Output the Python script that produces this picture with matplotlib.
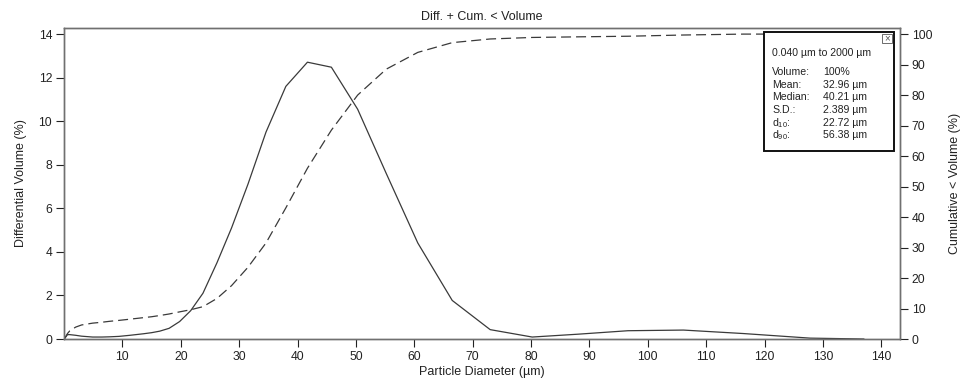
import matplotlib.pyplot as plt
from matplotlib.patches import Rectangle

plt.rcParams['font.family'] = ['Liberation Sans', 'DejaVu Sans']
plt.rcParams['mathtext.fontset'] = 'custom'
plt.rcParams['mathtext.rm'] = 'Liberation Sans'
plt.rcParams['mathtext.it'] = 'Liberation Sans'

# channel diameters (um)
diameter = [0.04, 0.6, 1.0, 2.0, 3.0, 4.9, 6.5, 7.8, 9.4, 11.3, 13.6, 15.0,
            16.4, 18.0, 19.8, 21.7, 23.8, 26.2, 28.7, 31.5, 34.6, 38.0,
            41.7, 45.8, 50.3, 55.2, 60.6, 66.5, 73.0, 80.2, 88.0, 96.6,
            106.1, 116.4, 127.8, 137.0]
# differential volume (%)
diff_vol = [0.0, 0.2, 0.2, 0.17, 0.13, 0.09, 0.09, 0.1, 0.12, 0.17, 0.24, 0.29,
            0.36, 0.49, 0.8, 1.3, 2.1, 3.5, 5.1, 7.1, 9.5, 11.6,
            12.71, 12.48, 10.55, 7.6, 4.41, 1.77, 0.43, 0.09, 0.22, 0.38,
            0.41, 0.25, 0.04, 0.0]
# cumulative < volume (%)
cum_vol = [0.0, 1.8, 2.7, 3.9, 4.6, 5.2, 5.5, 5.8, 6.1, 6.5, 7.0, 7.3,
           7.7, 8.2, 8.9, 9.6, 10.6, 13.3, 17.5, 23.5, 31.5, 43.0,
           56.0, 68.5, 80.0, 88.5, 94.0, 97.2, 98.4, 98.9, 99.1, 99.3,
           99.7, 100.0, 100.0, 100.0]

stat_names = ['Volume:', 'Mean:', 'Median:', 'S.D.:', r'd$_{10}$:', r'd$_{90}$:']
stat_values = ['100%', '32.96 µm', '40.21 µm', '2.389 µm', '22.72 µm', '56.38 µm']
size_range = '0.040 µm to 2000 µm'

W, H = 962, 379
fig = plt.figure(figsize=(W / 100, H / 100), dpi=100)
ax = fig.add_axes([64 / W, 1 - 339 / H, (900 - 64) / W, (339 - 28) / H])
ax2 = ax.twinx()

line_col = '#3a3a3a'
ax.plot(diameter, diff_vol, color=line_col, lw=0.9)
ax2.plot(diameter, cum_vol, color=line_col, lw=0.9, dashes=(8, 4))

ax.set_xlim(0, 143.2)
ax.set_ylim(0, 14.28)
ax2.set_ylim(0, 102)
ax.set_xticks(range(10, 141, 10))
ax.set_yticks(range(0, 15, 2))
ax2.set_yticks(range(0, 101, 10))

fs = 9
txt_col = '#222222'
for a in (ax, ax2):
    a.tick_params(labelsize=8.7, colors=txt_col, length=5.5, width=0.8, pad=3)
    for s in a.spines.values():
        s.set_color('#707070')
        s.set_linewidth(1.0)

ax.set_xlabel('Particle Diameter (µm)', fontsize=fs, color=txt_col, labelpad=2)
ax.set_ylabel('Differential Volume (%)', fontsize=fs, color=txt_col, labelpad=8)
ax2.set_ylabel('Cumulative < Volume (%)', fontsize=fs, color=txt_col, labelpad=12)
fig.text(482 / W, 1 - 17 / H, 'Diff. + Cum. < Volume', fontsize=fs,
         color=txt_col, ha='center', va='center')

# statistics box
box = Rectangle((764 / W, 1 - 151 / H), (894 - 764) / W, (151 - 32) / H,
                transform=fig.transFigure, facecolor='white',
                edgecolor='#111111', lw=1.4, zorder=5)
fig.patches.append(box)
close = Rectangle((882 / W, 1 - 43 / H), 10 / W, 9 / H, transform=fig.transFigure,
                  facecolor='white', edgecolor='#555555', lw=0.6, zorder=6)
fig.patches.append(close)
fig.text(887 / W, 1 - 38.5 / H, '×', fontsize=7, color='#555555',
         ha='center', va='center', zorder=7)

tfs = 7.6
fig.text(772 / W, 1 - 53.5 / H, size_range, fontsize=tfs, color=txt_col,
         va='center', zorder=7)
for i, (name, val) in enumerate(zip(stat_names, stat_values)):
    y = 1 - (72 + i * 12.7) / H
    fig.text(772 / W, y, name, fontsize=tfs, color=txt_col, va='center', zorder=7)
    fig.text(823 / W, y, val, fontsize=tfs, color=txt_col, va='center', zorder=7)

fig.savefig('out.png', dpi=100)
